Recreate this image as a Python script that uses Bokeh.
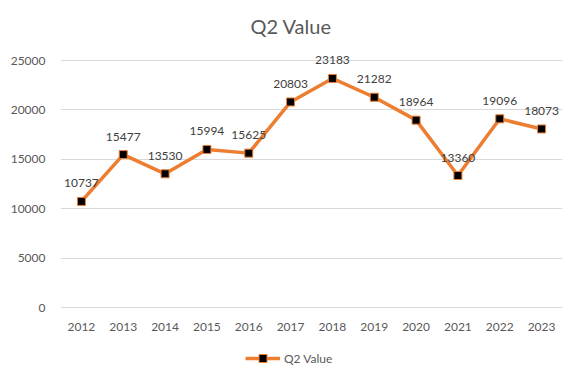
from bokeh.plotting import figure
from bokeh.models import ColumnDataSource, LabelSet, Legend, LegendItem, FactorRange, Range1d, FixedTicker
from bokeh.core.properties import value
from bokeh.embed import file_html
from bokeh.resources import INLINE

years = ["2012", "2013", "2014", "2015", "2016", "2017", "2018", "2019", "2020", "2021", "2022", "2023"]
q2_values = [10737, 15477, 13530, 15994, 15625, 20803, 23183, 21282, 18964, 13360, 19096, 18073]
y_ticks = [0, 5000, 10000, 15000, 20000, 25000]

FONT = "Lato"
GRAY = "#595959"

AXIS_PX = 247          # pixel height of the 0..25000 span
EXTRA_TOP = 12         # room above the top gridline so data labels are not clipped
EXTRA_BOTTOM = 65      # room below the zero line for category labels and legend
units_per_px = max(y_ticks) / AXIS_PX
y_top = max(y_ticks) + EXTRA_TOP * units_per_px
y_bottom = -EXTRA_BOTTOM * units_per_px

src = ColumnDataSource(dict(x=years, y=q2_values, lbl=[str(v) for v in q2_values],
                            zero=[0] * len(years)))

p = figure(frame_width=502, frame_height=AXIS_PX + EXTRA_TOP + EXTRA_BOTTOM,
           x_range=FactorRange(*years, range_padding=0),
           y_range=Range1d(y_bottom, y_top), output_backend="svg", toolbar_location=None,
           min_border_left=60, min_border_right=2, min_border_top=48, min_border_bottom=0)

p.title.text = "Q2 Value"
p.title.align = "left"
p.title.offset = 190
p.title.text_font = FONT
p.title.text_font_size = "20px"
p.title.text_font_style = "normal"
p.title.text_color = GRAY
p.title.standoff = 22

p.outline_line_color = None
p.xgrid.grid_line_color = None
p.ygrid.grid_line_color = "#d9d9d9"
p.ygrid.grid_line_width = 1

p.yaxis.ticker = FixedTicker(ticks=y_ticks)
p.yaxis.axis_line_color = None
p.yaxis.major_tick_line_color = None
p.yaxis.minor_tick_line_color = None
p.yaxis.major_label_text_font = FONT
p.yaxis.major_label_text_font_size = "12px"
p.yaxis.major_label_text_color = GRAY
p.yaxis.major_label_standoff = 9

p.xaxis.visible = False

ln = p.line("x", "y", source=src, line_color="#ED7D31", line_width=3.5)
sc = p.scatter("x", "y", source=src, marker="square", size=8, fill_color="black",
               line_color="#ED7D31", line_width=1)

labels = LabelSet(x="x", y="y", text="lbl", source=src, text_align="center",
                  text_baseline="middle", y_offset=18, text_font_size="12px",
                  text_color="#404040", text_font=value(FONT))
p.add_layout(labels)

xlabels = LabelSet(x="x", y="zero", text="x", source=src, text_align="center",
                   text_baseline="middle", y_offset=-19, text_font_size="12px",
                   text_color=GRAY, text_font=value(FONT))
p.add_layout(xlabels)

legend = Legend(items=[LegendItem(label="Q2 Value", renderers=[ln, sc])],
                orientation="horizontal", location=(185, 4),
                border_line_color=None, background_fill_alpha=0,
                label_text_font=FONT, label_text_font_size="12px", label_text_color=GRAY,
                glyph_width=35, glyph_height=20, label_height=20,
                label_standoff=4, margin=0, padding=0)
p.add_layout(legend)

open("out.html", "w").write(file_html(p, INLINE))
